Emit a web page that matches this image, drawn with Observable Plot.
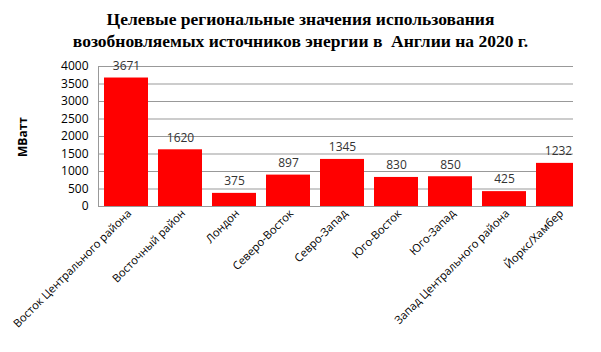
<!DOCTYPE html>
<html><head><meta charset="utf-8">
<script src="https://cdn.jsdelivr.net/npm/d3@7"></script>
<script src="https://cdn.jsdelivr.net/npm/@observablehq/plot@0.6"></script>
<style>
body{margin:0;background:#fff;}
#wrap{position:relative;width:601px;height:352px;}
#title{position:absolute;left:0;top:8px;width:601px;text-align:center;font-family:"Liberation Serif","Times New Roman",serif;font-weight:bold;font-size:17.5px;line-height:22px;color:#000;}
#ylab{position:absolute;left:22px;top:137px;transform:translate(-50%,-50%) rotate(-90deg);font-family:"Open Sans",sans-serif;font-weight:bold;font-size:12px;color:#000;}
</style></head><body>
<div id="wrap"><div id="chart"></div>
<div id="title">Целевые региональные значения использования<br>возобновляемых источников энергии в&nbsp; Англии на 2020 г.</div>
<div id="ylab">МВатт</div></div>
<script>
const regions = ["Восток Центрального района","Восточный район","Лондон","Северо-Восток","Севро-Запад","Юго-Восток","Юго-Запад","Запад Центрального района","Йоркс/Хамбер"];
const values = [3671,1620,375,897,1345,830,850,425,1232];
const yTicks = [0,500,1000,1500,2000,2500,3000,3500,4000];
const data = regions.map((r,i)=>({region:r,value:values[i]}));
const chart = Plot.plot({
  width:601,height:352,
  marginTop:66,marginBottom:146,marginLeft:98,marginRight:28,
  style:{fontFamily:"'Open Sans',sans-serif",fontSize:"12px",color:"#222",background:"#fff"},
  x:{domain:regions,range:[98,586],paddingInner:0.19,paddingOuter:0.09,label:null},
  y:{domain:[0,4000],ticks:yTicks,label:null},
  marks:[
    Plot.gridY(yTicks,{stroke:"#999",strokeOpacity:1,strokeWidth:1}),
    Plot.frame({anchor:"left",stroke:"#999"}),
    Plot.barY(data,{x:"region",y:"value",fill:"#ff0000",clip:"frame"}),
    Plot.text(data,{x:"region",y:"value",text:d=>String(d.value),dy:-12,fill:"#333",fontSize:12}),
    Plot.axisX({tickSize:0,tickRotate:-45,tickPadding:5,fontSize:11.2,fill:"#000",label:null,dx:3}),
    Plot.axisY({ticks:yTicks,tickFormat:"d",tickSize:0,tickPadding:10,fontSize:12,fill:"#000",label:null})
  ]
});
document.getElementById("chart").appendChild(chart);
</script></body></html>
